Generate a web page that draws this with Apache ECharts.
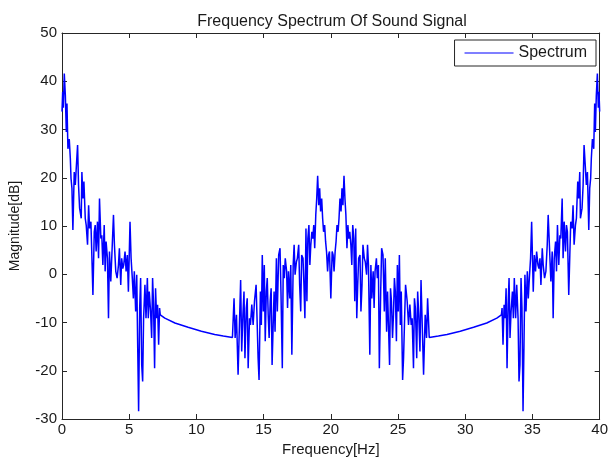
<!DOCTYPE html>
<html>
<head>
<meta charset="utf-8">
<script src="https://cdn.jsdelivr.net/npm/echarts@6/dist/echarts.min.js"></script>
<style>html,body{margin:0;padding:0;background:#fff;}#c{width:611px;height:462px;}</style>
</head>
<body>
<div id="c"></div>
<script>
// Tick values
const xTicks = [0, 5, 10, 15, 20, 25, 30, 35, 40];
const yTicks = [-30, -20, -10, 0, 10, 20, 30, 40, 50];

// Segment 1: low-frequency noisy band (0 - 7.3 Hz)
const lowF = [0.00,0.05,0.10,0.17,0.25,0.32,0.37,0.44,0.54,0.62,0.67,0.74,0.81,0.91,0.99,1.06,1.16,1.23,1.31,1.43,1.48,1.56,1.63,1.73,1.80,1.90,1.98,2.05,2.15,2.22,2.30,2.40,2.47,2.54,2.64,2.72,2.79,2.89,2.96,3.04,3.14,3.21,3.28,3.38,3.46,3.53,3.63,3.75,3.83,3.90,4.00,4.10,4.20,4.27,4.37,4.44,4.52,4.59,4.69,4.77,4.86,4.94,5.06,5.14,5.23,5.31,5.38,5.48,5.56,5.63,5.70,5.78,5.85,5.93,6.00,6.07,6.17,6.25,6.35,6.42,6.49,6.59,6.67,6.74,6.81,6.89,6.96,7.04,7.11,7.19,7.26,7.31];
const lowM = [33.7,37.8,34.5,41.6,37.0,29.5,35.4,26.0,28.0,24.0,19.9,17.8,9.2,21.2,18.5,22.0,26.8,18.5,13.7,11.6,21.2,15.7,19.2,11.6,10.2,6.1,14.3,9.5,10.9,4.0,-4.3,8.8,10.2,4.7,10.9,3.3,15.7,7.4,8.1,1.9,10.2,0.6,6.8,3.3,-9.1,4.7,-1.5,6.8,12.3,6.1,0.6,-0.8,1.9,5.4,-2.2,3.3,1.2,1.9,4.7,0.6,4.0,-3.6,10.9,3.3,-0.8,-5.0,0.6,-7.7,-0.1,-14.6,-28.4,-7.0,-0.8,-18.8,-22.2,-9.1,-2.2,-9.1,-0.8,-9.1,-3.6,-7.7,-13.2,-0.8,-6.3,-19.5,-2.9,-9.1,-6.3,-14.6,-7.0,-8.4];

// Segment 2: smooth valley (7.3 - 12.7 Hz)
const valleyLF = [7.65,8.40,9.38,10.37,11.36,12.00,12.68];
const valleyLM = [-9.1,-10.1,-11.0,-11.8,-12.5,-12.8,-13.1];

// Segment 3: central noisy band rising to the peak (12.8 - 20 Hz)
const midLF = [12.80,12.88,12.98,13.10,13.20,13.29,13.37,13.46,13.54,13.61,13.71,13.78,13.85,13.95,14.02,14.12,14.22,14.32,14.44,14.51,14.59,14.66,14.76,14.83,14.90,14.98,15.05,15.12,15.20,15.27,15.34,15.41,15.49,15.56,15.63,15.71,15.78,15.85,15.95,16.02,16.12,16.22,16.29,16.39,16.46,16.54,16.61,16.71,16.78,16.85,16.95,17.02,17.10,17.20,17.27,17.34,17.44,17.51,17.61,17.68,17.76,17.83,17.93,18.00,18.07,18.15,18.22,18.29,18.37,18.44,18.51,18.59,18.66,18.73,18.80,18.88,18.95,19.02,19.10,19.17,19.24,19.32,19.39,19.46,19.54,19.61,19.68,19.76,19.83,19.90,20.00];
const midLM = [-5.0,-13.2,-8.4,-20.8,-10.5,-1.2,-16.0,-8.4,-3.6,-17.4,-7.0,-5.0,-19.5,-9.1,-10.5,-6.3,-10.5,-5.6,-2.2,-9.1,-17.4,-21.9,-3.6,-10.5,4.0,-7.7,1.9,-13.9,-3.6,-0.8,-8.4,-13.2,-5.6,-2.9,-18.8,-10.5,-3.6,-11.9,3.3,-7.7,4.0,5.4,-3.6,-19.5,1.9,-0.8,3.3,0.6,-7.0,0.6,-5.0,1.9,-16.7,1.9,6.1,-0.1,2.6,3.3,6.1,-2.2,-7.7,4.0,3.3,-2.2,-9.1,9.5,-5.6,7.4,10.2,1.9,6.1,8.8,7.4,10.2,5.4,12.3,15.7,20.4,14.3,17.8,13.0,15.7,11.6,8.8,10.2,6.8,4.7,0.6,4.0,4.7,-5.0];

// Segment 4: central noisy band falling from the peak (20.1 - 27.2 Hz)
const midRF = [20.10,20.17,20.24,20.32,20.39,20.46,20.54,20.61,20.68,20.76,20.83,20.90,20.98,21.05,21.12,21.20,21.27,21.34,21.41,21.49,21.56,21.63,21.71,21.78,21.85,21.93,22.00,22.07,22.17,22.24,22.32,22.39,22.49,22.56,22.66,22.73,22.80,22.90,22.98,23.05,23.15,23.22,23.29,23.39,23.46,23.54,23.61,23.71,23.78,23.88,23.98,24.05,24.15,24.22,24.29,24.37,24.44,24.51,24.59,24.66,24.73,24.80,24.88,24.95,25.02,25.10,25.17,25.24,25.34,25.41,25.49,25.56,25.68,25.78,25.88,25.98,26.05,26.15,26.22,26.29,26.39,26.46,26.54,26.63,26.71,26.80,26.90,27.02,27.12,27.20];
const midRM = [4.7,4.0,0.6,4.7,6.8,10.2,8.8,11.6,15.7,13.0,17.8,14.3,20.4,15.7,12.3,5.4,10.2,7.4,8.8,6.1,1.9,10.2,7.4,-5.6,9.5,-9.1,-2.2,3.3,4.0,-7.7,-2.2,6.1,3.3,2.6,-0.1,6.1,1.9,-16.7,1.9,-5.0,0.6,-7.0,0.6,3.3,-0.8,1.9,-19.5,-3.6,5.4,4.0,-7.7,3.3,-11.9,-3.6,-10.5,-18.8,-2.9,-5.6,-13.2,-8.4,-0.8,-3.6,-13.9,1.9,-7.7,4.0,-10.5,-3.6,-21.9,-17.4,-9.1,-2.2,-5.6,-10.5,-6.3,-10.5,-9.1,-19.5,-5.0,-7.0,-17.4,-3.6,-8.4,-16.0,-1.2,-10.5,-20.8,-8.4,-13.2,-5.0];

// Segment 5: smooth valley (27.3 - 32.4 Hz)
const valleyRF = [27.32,28.00,28.64,29.63,30.62,31.60,32.35];
const valleyRM = [-13.1,-12.8,-12.5,-11.8,-11.0,-10.1,-9.1];

// Segment 6: high-frequency noisy band (32.7 - 40 Hz)
const highF = [32.69,32.74,32.81,32.89,32.96,33.04,33.11,33.19,33.26,33.33,33.41,33.51,33.58,33.65,33.75,33.83,33.93,34.00,34.07,34.15,34.22,34.30,34.37,34.44,34.52,34.62,34.69,34.77,34.86,34.94,35.06,35.14,35.23,35.31,35.41,35.48,35.56,35.63,35.73,35.80,35.90,36.00,36.10,36.17,36.25,36.37,36.47,36.54,36.62,36.72,36.79,36.86,36.96,37.04,37.11,37.21,37.28,37.36,37.46,37.53,37.60,37.70,37.78,37.85,37.95,38.02,38.10,38.20,38.27,38.37,38.44,38.52,38.57,38.69,38.77,38.84,38.94,39.01,39.09,39.19,39.26,39.33,39.38,39.46,39.56,39.63,39.68,39.75,39.83,39.90,39.95,40.00];
const highM = [-8.4,-7.0,-14.6,-6.3,-9.1,-2.9,-19.5,-6.3,-0.8,-13.2,-7.7,-3.6,-9.1,-0.8,-9.1,-2.2,-9.1,-22.2,-18.8,-0.8,-7.0,-28.4,-14.6,-0.1,-7.7,0.6,-5.0,-0.8,3.3,10.9,-3.6,4.0,0.6,4.7,1.9,1.2,3.3,-2.2,5.4,1.9,-0.8,0.6,6.1,12.3,6.8,-1.5,4.7,-9.1,3.3,6.8,0.6,10.2,1.9,8.1,7.4,15.7,3.3,10.9,4.7,10.2,8.8,-4.3,4.0,10.9,9.5,14.3,6.1,10.2,11.6,19.2,15.7,21.2,11.6,13.7,18.5,26.8,22.0,18.5,21.2,9.2,17.8,19.9,24.0,28.0,26.0,35.4,29.5,37.0,41.6,34.5,37.8,33.7];

const freqHz = [].concat(lowF, valleyLF, midLF, midRF, valleyRF, highF);
const magnitudeDb = [].concat(lowM, valleyLM, midLM, midRM, valleyRM, highM);
const seriesName = 'Spectrum';
const lineColor = '#0000ff';

const chart = echarts.init(document.getElementById('c'), null, {renderer: 'canvas'});
const font = 'Liberation Sans, Arial, sans-serif';
const textColor = '#1a1a1a';
const axisLine = {show: true, onZero: false, lineStyle: {color: '#262626', width: 1}};
const tick = {show: true, inside: true, length: 5, lineStyle: {color: '#262626'}};

chart.setOption({
  animation: false,
  color: [lineColor],
  backgroundColor: '#ffffff',
  title: {
    text: 'Frequency Spectrum Of Sound Signal',
    left: 327, top: 9, textAlign: 'center',
    textStyle: {fontFamily: font, fontSize: 16, fontWeight: 'normal', color: textColor}
  },
  legend: {
    data: [{name: seriesName, icon: 'rect', itemStyle: {color: lineColor, borderColor: lineColor, borderWidth: 0}}],
    right: 15, top: 40,
    orient: 'horizontal',
    backgroundColor: '#ffffff',
    borderColor: '#262626', borderWidth: 1, borderRadius: 0,
    padding: [4, 9, 4, 10],
    itemWidth: 49, itemHeight: 1, itemGap: 6,
    itemStyle: {color: lineColor, borderColor: lineColor, borderWidth: 0},
    textStyle: {fontFamily: font, fontSize: 16, color: textColor, lineHeight: 18}
  },
  grid: {left: 62, right: 9, top: 33, bottom: 43, containLabel: false, show: false},
  xAxis: [
    {
      type: 'value', min: xTicks[0], max: xTicks[xTicks.length - 1], interval: 5,
      name: 'Frequency[Hz]', nameLocation: 'middle', nameGap: 20,
      nameTextStyle: {fontFamily: font, fontSize: 15, color: textColor, verticalAlign: 'top'},
      axisLine: axisLine, axisTick: tick,
      axisLabel: {fontFamily: font, fontSize: 15, color: textColor, margin: 3},
      splitLine: {show: false}
    },
    {
      type: 'value', position: 'top', min: xTicks[0], max: xTicks[xTicks.length - 1], interval: 5,
      axisLine: axisLine, axisTick: tick, axisLabel: {show: false}, splitLine: {show: false}
    }
  ],
  yAxis: [
    {
      type: 'value', min: yTicks[0], max: yTicks[yTicks.length - 1], interval: 10,
      name: 'Magnitude[dB]', nameLocation: 'middle', nameGap: 40, nameRotate: 90,
      nameTextStyle: {fontFamily: font, fontSize: 14, color: textColor},
      axisLine: axisLine, axisTick: tick,
      axisLabel: {fontFamily: font, fontSize: 15, color: textColor, margin: 5},
      splitLine: {show: false}
    },
    {
      type: 'value', position: 'right', min: yTicks[0], max: yTicks[yTicks.length - 1], interval: 10,
      axisLine: axisLine, axisTick: tick, axisLabel: {show: false}, splitLine: {show: false}
    }
  ],
  series: [{
    name: seriesName,
    type: 'line',
    xAxisIndex: 0, yAxisIndex: 0,
    data: freqHz.map((f, i) => [f, magnitudeDb[i]]),
    showSymbol: false, symbol: 'none',
    lineStyle: {color: lineColor, width: 1.5},
    itemStyle: {color: lineColor},
    clip: true
  }]
});
</script>
</body>
</html>
